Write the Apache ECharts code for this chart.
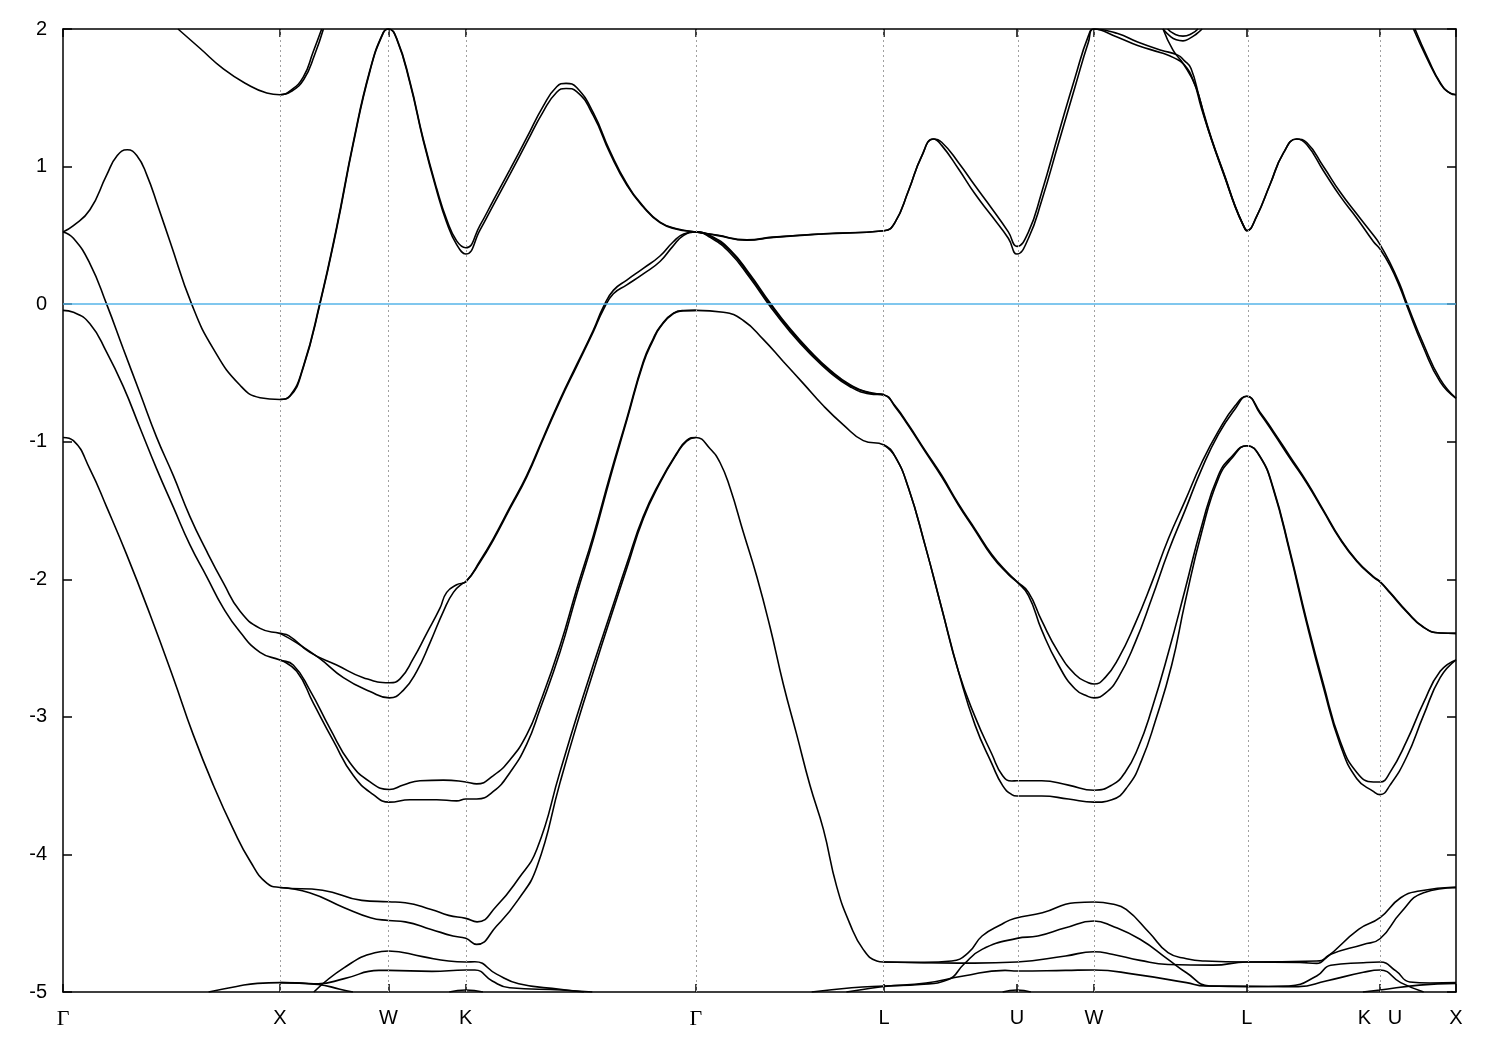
<!DOCTYPE html>
<html><head><meta charset="utf-8">
<script src="https://cdn.jsdelivr.net/npm/echarts@6/dist/echarts.min.js"></script>
<style>html,body{margin:0;padding:0;background:#fff}#c{width:1500px;height:1050px}</style>
</head><body><div id="c"></div>
<script>
// High-symmetry points along the k-path
const kTicks  = [0, 1.0, 1.5, 1.856, 2.916, 3.783, 4.396, 4.751, 5.455, 6.069, 6.419];
const kLabels = ['Γ', 'X', 'W', 'K', 'Γ', 'L', 'U', 'W', 'L', 'K   U', 'X'];
const eMin = -5, eMax = 2;
const fermi = 0;

// Bands: [k, E] pairs
const bandA1 = [[0.53,2.0],[0.631,1.86],[0.739,1.71],[0.846,1.60],[0.939,1.535],[1.0,1.522],[1.046,1.55],[1.107,1.65],[1.153,1.835],[1.192,2.0]];
const bandA2 = [[1.0,1.522],[1.05,1.545],[1.11,1.635],[1.16,1.815],[1.2,2.0]];
const bandA3 = [[6.223,2.0],[6.284,1.79],[6.346,1.605],[6.38,1.545],[6.419,1.522]];
const bandA4 = [[6.23,2.0],[6.29,1.785],[6.35,1.60],[6.39,1.535],[6.419,1.522]];
const bandS  = [[5.069,2.0],[5.115,1.846],[5.161,1.75],[5.22,1.58],[5.26,1.36],[5.293,1.195],[5.355,0.92],[5.401,0.712],[5.439,0.573],[5.455,0.534]];
const bowl1  = [[5.069,2.0],[5.10,1.95],[5.13,1.922],[5.161,1.914],[5.19,1.93],[5.22,1.96],[5.249,2.0]];
const bowl2  = [[5.09,2.0],[5.12,1.965],[5.161,1.948],[5.20,1.965],[5.23,2.0]];

const bandB1 = [[0,0.525],[0.048,0.57],[0.124,0.686],[0.201,0.938],[0.25,1.08],[0.296,1.122],[0.34,1.08],[0.386,0.94],[0.44,0.70],[0.493,0.456],[0.593,0.0],[0.693,-0.325],[0.816,-0.59],[0.908,-0.68],[1.0,-0.693],
 [1.046,-0.67],[1.107,-0.463],[1.184,0.0],[1.261,0.548],[1.338,1.168],[1.415,1.697],[1.476,1.972],[1.5,2.0],
 [1.538,1.926],[1.599,1.605],[1.66,1.19],[1.722,0.824],[1.768,0.594],[1.814,0.433],[1.856,0.364],
 [1.922,0.54],[1.983,0.72],[2.06,0.945],[2.137,1.175],[2.213,1.4],[2.275,1.54],[2.318,1.568],[2.367,1.545],[2.444,1.37],[2.521,1.095],[2.598,0.865],[2.674,0.706],[2.751,0.592],[2.828,0.545],[2.916,0.525],
 [3.012,0.50],[3.151,0.465],[3.273,0.485],[3.504,0.51],[3.783,0.534],
 [3.834,0.594],[3.896,0.824],[3.957,1.076],[4.011,1.2],[4.049,1.154],[4.126,0.984],[4.203,0.8],[4.28,0.64],[4.356,0.479],[4.396,0.364],
 [4.449,0.479],[4.51,0.754],[4.587,1.168],[4.664,1.582],[4.725,1.903],[4.751,2.0],
 [4.86,1.94],[4.952,1.88],[5.06,1.827],[5.12,1.79],[5.167,1.74],[5.21,1.62],[5.245,1.43],[5.293,1.191],[5.355,0.915],[5.401,0.709],[5.439,0.571],[5.455,0.534],
 [5.501,0.64],[5.562,0.87],[5.624,1.099],[5.685,1.2],[5.731,1.16],[5.808,0.97],[5.885,0.785],[5.962,0.625],[6.038,0.456],[6.069,0.40],
 [6.115,0.28],[6.161,0.12],[6.192,-0.01],[6.269,-0.315],[6.346,-0.565],[6.419,-0.684]];
const bandB2 = [[1.0,-0.693],[1.046,-0.665],[1.107,-0.455],[1.184,0.01],[1.261,0.56],[1.338,1.18],[1.415,1.705],[1.476,1.975],[1.5,2.0],
 [1.538,1.93],[1.599,1.615],[1.66,1.2],[1.722,0.84],[1.768,0.615],[1.814,0.46],[1.856,0.41],
 [1.922,0.575],[1.983,0.755],[2.06,0.98],[2.137,1.21],[2.213,1.44],[2.275,1.58],[2.318,1.605],[2.367,1.575],[2.444,1.39],[2.521,1.11],[2.598,0.875],[2.674,0.712],[2.751,0.596],[2.828,0.548],[2.916,0.525],
 [3.012,0.502],[3.151,0.467],[3.273,0.487],[3.504,0.512],[3.783,0.534],
 [3.834,0.594],[3.896,0.824],[3.957,1.076],[4.011,1.2],[4.049,1.177],[4.126,1.03],[4.203,0.86],[4.28,0.695],[4.356,0.525],[4.396,0.42],
 [4.449,0.525],[4.51,0.814],[4.587,1.237],[4.664,1.65],[4.725,1.95],[4.751,2.0],
 [4.86,1.967],[4.952,1.906],[5.06,1.846],[5.137,1.81],[5.167,1.77],[5.198,1.713],[5.24,1.48],[5.293,1.2],[5.355,0.925],[5.401,0.715],[5.439,0.575],[5.455,0.534],
 [5.501,0.64],[5.562,0.87],[5.624,1.099],[5.685,1.2],[5.731,1.175],[5.808,1.0],[5.885,0.815],[5.962,0.655],[6.038,0.502],[6.069,0.433],
 [6.115,0.30],[6.161,0.14],[6.192,0.01],[6.269,-0.29],[6.346,-0.545],[6.419,-0.684]];

const bandCa = [[0,0.525],[0.048,0.479],[0.124,0.295],[0.201,0.0],[0.278,-0.326],[0.355,-0.648],[0.432,-0.97],[0.508,-1.245],[0.585,-1.544],[0.662,-1.796],[0.739,-2.026],[0.816,-2.233],[0.908,-2.357],[1.0,-2.393],
 [1.04,-2.41],[1.138,-2.531],[1.261,-2.623],[1.384,-2.715],[1.504,-2.752],[1.553,-2.724],[1.614,-2.577],[1.676,-2.393],[1.737,-2.21],[1.768,-2.095],[1.814,-2.04],[1.856,-2.017],
 [1.922,-1.865],[1.983,-1.704],[2.06,-1.474],[2.137,-1.244],[2.213,-0.969],[2.29,-0.693],[2.367,-0.44],[2.444,-0.188],[2.49,-0.02],[2.536,0.1],[2.598,0.175],[2.674,0.26],[2.751,0.35],[2.81,0.45],[2.86,0.51],[2.916,0.525],
 [2.982,0.493],[3.074,0.387],[3.166,0.204],[3.258,0.0],[3.35,-0.188],[3.442,-0.349],[3.535,-0.487],[3.627,-0.592],[3.719,-0.647],[3.783,-0.66],
 [3.834,-0.739],[3.896,-0.877],[3.972,-1.061],[4.049,-1.244],[4.126,-1.451],[4.203,-1.635],[4.28,-1.819],[4.356,-1.957],[4.396,-2.017],[4.449,-2.095],[4.51,-2.301],[4.587,-2.531],[4.664,-2.692],[4.725,-2.752],[4.751,-2.761],
 [4.802,-2.715],[4.863,-2.577],[4.94,-2.324],[5.017,-2.026],[5.094,-1.704],[5.171,-1.428],[5.247,-1.153],[5.324,-0.923],[5.401,-0.739],[5.455,-0.67],
 [5.516,-0.785],[5.577,-0.923],[5.654,-1.107],[5.731,-1.291],[5.808,-1.497],[5.885,-1.704],[5.962,-1.865],[6.038,-1.98],[6.069,-2.017],[6.115,-2.095],[6.192,-2.233],[6.269,-2.347],[6.346,-2.39],[6.419,-2.393]];
const bandCb = [[1.0,-2.393],[1.077,-2.462],[1.184,-2.577],[1.292,-2.715],[1.415,-2.816],[1.504,-2.862],[1.568,-2.807],[1.63,-2.669],[1.691,-2.462],[1.753,-2.233],[1.799,-2.095],[1.845,-2.026],[1.856,-2.02],
 [1.922,-1.875],[1.983,-1.715],[2.06,-1.485],[2.137,-1.255],[2.213,-0.98],[2.29,-0.705],[2.367,-0.452],[2.444,-0.2],[2.49,-0.04],[2.536,0.075],[2.598,0.14],[2.674,0.22],[2.751,0.31],[2.81,0.42],[2.86,0.5],[2.916,0.525],
 [2.982,0.485],[3.074,0.372],[3.166,0.19],[3.258,-0.015],[3.35,-0.2],[3.442,-0.36],[3.535,-0.497],[3.627,-0.6],[3.719,-0.652],[3.783,-0.66],
 [3.834,-0.745],[3.896,-0.885],[3.972,-1.07],[4.049,-1.255],[4.126,-1.46],[4.203,-1.645],[4.28,-1.83],[4.356,-1.965],[4.396,-2.02],
 [4.449,-2.118],[4.51,-2.37],[4.587,-2.623],[4.664,-2.798],[4.725,-2.853],[4.751,-2.862],
 [4.802,-2.83],[4.863,-2.715],[4.94,-2.462],[5.017,-2.14],[5.094,-1.796],[5.171,-1.497],[5.247,-1.199],[5.324,-0.946],[5.401,-0.762],[5.455,-0.67],
 [5.516,-0.795],[5.577,-0.935],[5.654,-1.12],[5.731,-1.30],[5.808,-1.505],[5.885,-1.71],[5.962,-1.87],[6.038,-1.985],[6.069,-2.02],[6.115,-2.10],[6.192,-2.238],[6.269,-2.35],[6.346,-2.39],[6.419,-2.393]];
const bandCc = [[2.916,0.525],[2.982,0.50],[3.074,0.395],[3.166,0.215],[3.258,0.01],[3.35,-0.178],[3.442,-0.34],[3.535,-0.48],[3.627,-0.585],[3.719,-0.643],[3.783,-0.656]];

const bandDa = [[0,-0.045],[0.048,-0.059],[0.124,-0.142],[0.201,-0.349],[0.278,-0.6],[0.355,-0.9],[0.432,-1.199],[0.508,-1.474],[0.585,-1.75],[0.662,-1.98],[0.739,-2.21],[0.816,-2.384],[0.908,-2.531],[1.0,-2.586],
 [1.061,-2.623],[1.138,-2.807],[1.23,-3.083],[1.323,-3.335],[1.415,-3.473],[1.504,-3.528],[1.568,-3.496],[1.645,-3.464],[1.753,-3.46],[1.856,-3.473],
 [1.906,-3.487],[1.983,-3.427],[2.06,-3.312],[2.137,-3.129],[2.198,-2.899],[2.29,-2.485],[2.367,-2.072],[2.444,-1.681],[2.521,-1.244],[2.598,-0.831],[2.674,-0.417],[2.72,-0.25],[2.751,-0.165],[2.813,-0.065],[2.86,-0.047],[2.916,-0.045],
 [3.043,-0.059],[3.135,-0.119],[3.227,-0.256],[3.319,-0.417],[3.412,-0.578],[3.504,-0.739],[3.596,-0.877],[3.688,-0.992],[3.783,-1.024],
 [3.834,-1.107],[3.896,-1.337],[3.972,-1.75],[4.049,-2.21],[4.126,-2.669],[4.203,-3.0],[4.28,-3.27],[4.33,-3.428],[4.372,-3.466],[4.396,-3.464],[4.51,-3.464],[4.633,-3.496],[4.751,-3.533],
 [4.833,-3.496],[4.894,-3.404],[4.955,-3.221],[5.017,-2.945],[5.094,-2.531],[5.171,-2.072],[5.247,-1.612],[5.324,-1.244],[5.386,-1.107],[5.455,-1.029],
 [5.516,-1.107],[5.577,-1.337],[5.654,-1.796],[5.731,-2.301],[5.808,-2.761],[5.885,-3.175],[5.962,-3.404],[6.038,-3.473],[6.069,-3.473],[6.115,-3.404],[6.192,-3.175],[6.269,-2.899],[6.346,-2.669],[6.419,-2.586]];
const bandDb = [[1.0,-2.586],[1.077,-2.669],[1.153,-2.899],[1.246,-3.175],[1.338,-3.427],[1.43,-3.565],[1.504,-3.62],[1.599,-3.602],[1.722,-3.602],[1.814,-3.611],[1.856,-3.597],
 [1.906,-3.597],[1.983,-3.542],[2.06,-3.404],[2.137,-3.198],[2.198,-2.945],[2.29,-2.531],[2.367,-2.11],[2.444,-1.71],[2.521,-1.265],[2.598,-0.845],[2.674,-0.43],[2.72,-0.26],[2.751,-0.17],[2.813,-0.068],[2.86,-0.048],[2.916,-0.045]];
const bandDc = [[3.783,-1.024],[3.834,-1.107],[3.896,-1.337],[3.972,-1.75],[4.049,-2.21],[4.126,-2.669],[4.203,-3.06],[4.28,-3.34],[4.33,-3.5],[4.372,-3.565],[4.396,-3.575],[4.51,-3.575],[4.633,-3.597],[4.751,-3.62],
 [4.833,-3.602],[4.909,-3.5],[4.971,-3.313],[5.032,-3.037],[5.109,-2.623],[5.171,-2.164],[5.247,-1.658],[5.324,-1.268],[5.386,-1.12],[5.455,-1.029],
 [5.516,-1.11],[5.577,-1.345],[5.654,-1.81],[5.731,-2.32],[5.808,-2.785],[5.885,-3.2],[5.962,-3.45],[6.038,-3.542],[6.069,-3.565],[6.115,-3.496],[6.192,-3.29],[6.269,-2.991],[6.346,-2.715],[6.419,-2.586]];

const bandEa = [[0,-0.969],[0.048,-0.992],[0.124,-1.199],[0.201,-1.474],[0.293,-1.819],[0.401,-2.256],[0.508,-2.715],[0.6,-3.129],[0.693,-3.497],[0.785,-3.818],[0.862,-4.048],[0.939,-4.209],[1.0,-4.24],
 [1.196,-4.26],[1.377,-4.334],[1.5,-4.344],[1.577,-4.351],[1.697,-4.40],[1.777,-4.443],[1.856,-4.465],[1.908,-4.49],
 [1.998,-4.375],[2.097,-4.18],[2.184,-3.96],[2.29,-3.40],[2.367,-3.0],[2.444,-2.62],[2.521,-2.255],[2.598,-1.888],[2.674,-1.543],[2.751,-1.29],[2.828,-1.084],[2.874,-0.99],[2.916,-0.969],
 [2.982,-1.051],[3.028,-1.153],[3.074,-1.337],[3.135,-1.658],[3.197,-1.98],[3.258,-2.347],[3.319,-2.761],[3.381,-3.129],[3.442,-3.497],[3.504,-3.818],[3.565,-4.232],[3.627,-4.508],[3.688,-4.692],[3.75,-4.775],[3.783,-4.782],
 [3.97,-4.785],[4.095,-4.775],[4.172,-4.714],[4.235,-4.593],[4.326,-4.507],[4.384,-4.465],[4.513,-4.424],[4.663,-4.351],[4.751,-4.346],
 [4.834,-4.36],[4.899,-4.40],[5.006,-4.569],[5.092,-4.714],[5.177,-4.758],[5.263,-4.775],[5.455,-4.782],
 [5.777,-4.775],[5.82,-4.751],[5.97,-4.545],[6.069,-4.46],[6.164,-4.315],[6.25,-4.266],[6.419,-4.237]];
const bandEb = [[1.0,-4.24],[1.136,-4.278],[1.296,-4.387],[1.417,-4.46],[1.5,-4.48],[1.577,-4.49],[1.697,-4.545],[1.797,-4.593],[1.856,-4.61],[1.906,-4.654],
 [1.998,-4.52],[2.097,-4.33],[2.184,-4.09],[2.29,-3.48],[2.367,-3.06],[2.444,-2.67],[2.521,-2.29],[2.598,-1.92],[2.674,-1.56],[2.751,-1.30],[2.828,-1.09],[2.874,-0.995],[2.916,-0.969]];
const bandEc = [[3.783,-4.782],[4.127,-4.79],[4.2,-4.79],[4.396,-4.782],[4.62,-4.738],[4.751,-4.707],
 [4.834,-4.725],[4.963,-4.77],[5.092,-4.80],[5.3,-4.805],[5.455,-4.782],
 [5.7,-4.785],[5.777,-4.792],[5.842,-4.726],[5.992,-4.654],[6.069,-4.613],[6.164,-4.424],[6.27,-4.278],[6.419,-4.242]];

const bandF  = [[0.671,-5],[0.8,-4.96],[0.896,-4.937],[1.0,-4.932],[1.1,-4.935],[1.176,-4.94],[1.296,-4.903],[1.456,-4.843],[1.5,-4.843],[1.7,-4.85],[1.856,-4.84],[1.898,-4.84],[1.978,-4.92],[2.058,-4.969],[2.298,-4.985],[2.439,-5]];
const bandFb = [[1.0,-4.932],[1.176,-4.945],[1.276,-4.98],[1.336,-5]];
const bandG  = [[1.156,-5],[1.296,-4.823],[1.437,-4.714],[1.5,-4.702],[1.657,-4.743],[1.777,-4.775],[1.856,-4.782],[1.898,-4.78],[1.998,-4.87],[2.1,-4.94],[2.29,-4.98],[2.4,-5]];
const bandH1 = [[3.45,-5],[3.634,-4.969],[3.783,-4.956],[3.95,-4.945],[4.08,-4.91],[4.15,-4.80],[4.235,-4.69],[4.396,-4.61],[4.492,-4.593],[4.62,-4.533],[4.751,-4.484],
 [4.834,-4.52],[4.963,-4.617],[5.092,-4.763],[5.177,-4.86],[5.285,-4.956],[5.455,-4.961],
 [5.649,-4.956],[5.777,-4.884],[5.842,-4.806],[5.992,-4.787],[6.069,-4.782],[6.142,-4.847],[6.206,-4.927],[6.3,-4.935],[6.419,-4.932]];
const bandH2 = [[3.61,-5],[3.7,-4.978],[3.783,-4.96],[3.977,-4.935],[4.149,-4.884],[4.341,-4.843],[4.396,-4.847],[4.62,-4.843],[4.751,-4.84],
 [4.941,-4.872],[5.177,-4.932],[5.263,-4.956],[5.455,-4.958],[5.692,-4.961],[5.82,-4.92],[5.992,-4.857],[6.069,-4.84],[6.164,-4.932],[6.27,-5]];
const bumpK = [[1.78,-5],[1.856,-4.985],[1.935,-5]];
const bumpU = [[4.33,-5],[4.396,-4.985],[4.46,-5]];
const bandR = [[5.99,-5],[6.069,-4.985],[6.25,-4.95],[6.419,-4.937]];

const bands = [bandA1, bandA2, bandA3, bandA4, bandS, bowl1, bowl2, bandB1, bandB2,
  bandCa, bandCb, bandCc, bandDa, bandDb, bandDc, bandEa, bandEb, bandEc,
  bandF, bandFb, bandG, bandH1, bandH2, bumpK, bumpU, bandR];

const chart = echarts.init(document.getElementById('c'), null, {renderer: 'canvas'});
const sans = 'Liberation Sans, Arial, sans-serif';

function xLabel(v) {
  let best = 0, bd = 1e9;
  kTicks.forEach((t, i) => { const d = Math.abs(t - v); if (d < bd) { bd = d; best = i; } });
  const s = kLabels[best];
  return s === 'Γ' ? '{g|Γ}' : s;
}

const series = bands.map(b => ({
  type: 'line', data: b, showSymbol: false, symbol: 'none', smooth: 0.5,
  lineStyle: {color: '#000', width: 1.6}, z: 3, silent: true, clip: true
}));

series.push({
  type: 'line', data: [[0, fermi]], showSymbol: false, symbol: 'none', z: 1, silent: true,
  lineStyle: {width: 0},
  markLine: {
    silent: true, symbol: ['none', 'none'], animation: false,
    label: {show: false},
    data: kTicks.slice(1, -1).map(t => ({xAxis: t, lineStyle: {color: '#a0a0a0', width: 1, type: [2, 3]}}))
      .concat([{yAxis: fermi, lineStyle: {color: '#56b4e9', width: 1.6, type: 'solid'}}])
  }
});

chart.setOption({
  animation: false,
  backgroundColor: '#fff',
  grid: {left: 63, right: 44, top: 29, bottom: 58},
  xAxis: [{
    type: 'value', min: kTicks[0], max: kTicks[kTicks.length - 1], position: 'bottom',
    axisLine: {show: true, onZero: false, lineStyle: {color: '#000', width: 1.5}},
    axisTick: {show: true, inside: true, length: 8, customValues: kTicks, lineStyle: {color: '#000', width: 1.5}},
    axisLabel: {show: true, customValues: kTicks, formatter: xLabel, color: '#000', fontSize: 20, fontFamily: sans, margin: 16,
      rich: {g: {fontFamily: 'Liberation Serif, Times New Roman, serif', fontSize: 22, color: '#000'}}},
    splitLine: {show: false}
  }, {
    type: 'value', min: kTicks[0], max: kTicks[kTicks.length - 1], position: 'top',
    axisLine: {show: true, onZero: false, lineStyle: {color: '#000', width: 1.5}},
    axisTick: {show: true, inside: true, length: 8, customValues: kTicks, lineStyle: {color: '#000', width: 1.5}},
    axisLabel: {show: false}, splitLine: {show: false}
  }],
  yAxis: [{
    type: 'value', min: eMin, max: eMax, interval: 1, position: 'left',
    axisLine: {show: true, onZero: false, lineStyle: {color: '#000', width: 1.5}},
    axisTick: {show: true, inside: true, length: 9, lineStyle: {color: '#000', width: 1.5}},
    axisLabel: {color: '#000', fontSize: 20, fontFamily: sans, margin: 16},
    splitLine: {show: false}
  }, {
    type: 'value', min: eMin, max: eMax, interval: 1, position: 'right',
    axisLine: {show: true, onZero: false, lineStyle: {color: '#000', width: 1.5}},
    axisTick: {show: true, inside: true, length: 9, lineStyle: {color: '#000', width: 1.5}},
    axisLabel: {show: false}, splitLine: {show: false}
  }],
  series: series
});
</script>
</body></html>
